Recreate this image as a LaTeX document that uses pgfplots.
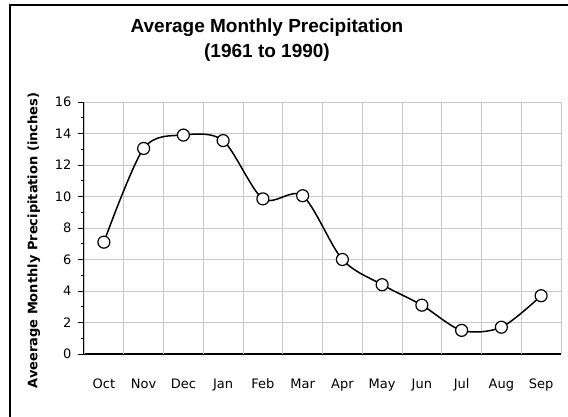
\documentclass[border=0pt]{standalone}
\usepackage{pgfplots}
\pgfplotsset{compat=1.18}
\usepackage{fontspec}
\setmainfont{Liberation Sans}
\newfontfamily\tickfont{DejaVu Sans}
\definecolor{gridgray}{RGB}{200,200,200}

\begin{document}
\begin{tikzpicture}[x=1pt,y=1pt]
\path[use as bounding box] (0,0) rectangle (568,416);
\draw[line width=1.5pt] (10,-5) -- (10,411) -- (575,411);
\node[font=\bfseries\fontsize{19}{25}\selectfont, align=center] at (267,376)
  {Average Monthly Precipitation\\(1961 to 1990)};
\begin{axis}[
  at={(84pt,62pt)}, anchor=south west,
  scale only axis, width=477pt, height=252pt,
  xmin=0.5, xmax=12.5, ymin=0, ymax=16,
  axis x line*=bottom, axis y line*=left,
  axis line style={line width=1.2pt, black},
  xtick={1,...,12},
  xticklabels={Oct,Nov,Dec,Jan,Feb,Mar,Apr,May,Jun,Jul,Aug,Sep},
  xtick style={draw=none},
  xticklabel style={yshift=-15pt},
  extra x ticks={0.5,1.5,...,12.5},
  extra x tick labels={},
  extra x tick style={grid=major, major tick length=11pt, tick align=center},
  ytick={0,2,...,16},
  minor ytick={1,3,...,15},
  ymajorgrids,
  tick align=outside,
  major tick length=6pt, minor tick length=3.5pt,
  tick style={black, line width=1pt},
  grid style={gridgray, line width=1pt},
  /pgf/number format/assume math mode=true,
  ticklabel style={font=\tickfont\fontsize{13}{15}\selectfont},
  yticklabel style={xshift=-3pt},
  ylabel={Aveerage Monthly Precipitation (inches)},
  ylabel style={font=\tickfont\bfseries\fontsize{13}{15}\selectfont,
    at={(axis description cs:-0.105,0.45)}, anchor=center},
  clip=false,
]
\addplot[black, line width=1.5pt, smooth, mark=*, mark size=6pt,
  mark options={fill=white, draw=black, line width=1.2pt}]
  coordinates {(1,7.1) (2,13.05) (3,13.9) (4,13.55) (5,9.85) (6,10.05)
               (7,6.0) (8,4.4) (9,3.1) (10,1.5) (11,1.7) (12,3.7)};
\end{axis}
\end{tikzpicture}
\end{document}
